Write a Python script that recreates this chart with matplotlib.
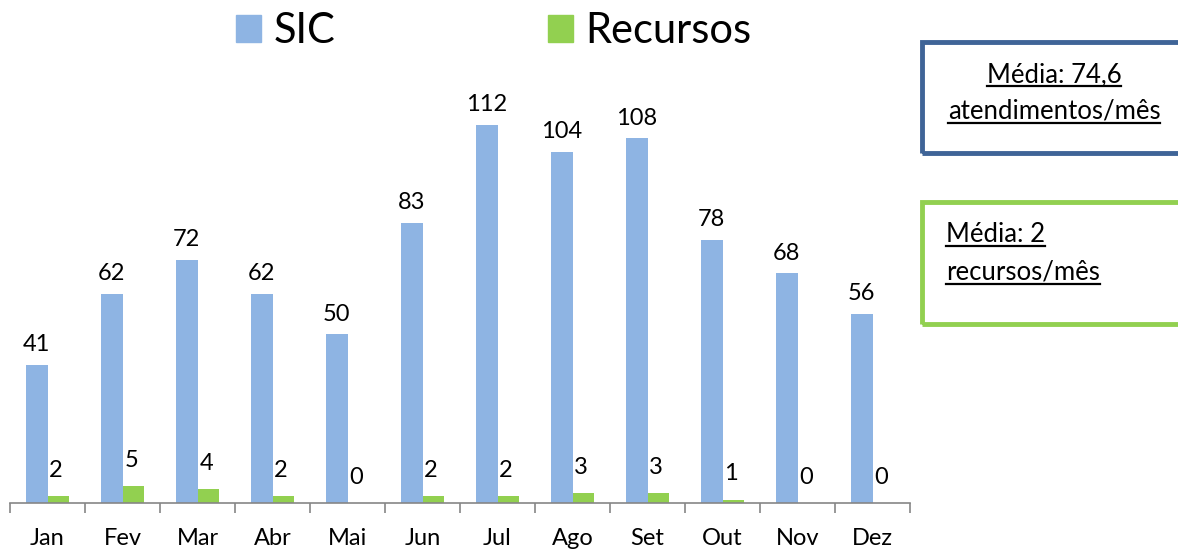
import matplotlib.pyplot as plt
import numpy as np
from matplotlib.patches import Patch, Rectangle
from matplotlib.lines import Line2D

plt.rcParams['font.family'] = ['Lato', 'DejaVu Sans']

# dados
meses = ['Jan', 'Fev', 'Mar', 'Abr', 'Mai', 'Jun', 'Jul', 'Ago', 'Set', 'Out', 'Nov', 'Dez']
sic = [41, 62, 72, 62, 50, 83, 112, 104, 108, 78, 68, 56]
recursos = [2, 5, 4, 2, 0, 2, 2, 3, 3, 1, 0, 0]
caixa_sic = ['Média: 74,6', 'atendimentos/mês']
caixa_rec = ['Média: 2', 'recursos/mês']

azul = '#8EB4E3'
verde = '#92D050'

W, H = 1178, 551
fig = plt.figure(figsize=(W / 100, H / 100), dpi=100)
ax = fig.add_axes([10 / W, 48 / H, 900 / W, 455 / H])

x = np.arange(len(meses))
w = 0.29
b1 = ax.bar(x - w / 2, sic, w, color=azul)
b2 = ax.bar(x + w / 2, recursos, w, color=verde)

for r, v in zip(b1, sic):
    ax.annotate(str(v), (r.get_x() + r.get_width() / 2, v), xytext=(0, 7),
                textcoords='offset points', ha='center', va='bottom', fontsize=17)
for r, v in zip(b2, recursos):
    ax.annotate(str(v), (r.get_x() + r.get_width() / 2 - 0.03, v), xytext=(0, 11),
                textcoords='offset points', ha='center', va='bottom', fontsize=17)

ax.set_xlim(-0.5, len(meses) - 0.5)
ax.set_ylim(0, 134.8)
for s in ['top', 'right', 'left']:
    ax.spines[s].set_visible(False)
ax.spines['bottom'].set_color('#868686')
ax.spines['bottom'].set_linewidth(1.2)
ax.set_yticks([])
ax.set_xticks(x)
ax.set_xticklabels(meses, fontsize=17)
ax.tick_params(axis='x', which='major', length=0, pad=18)
ax.set_xticks(np.arange(len(meses) + 1) - 0.5, minor=True)
ax.tick_params(axis='x', which='minor', length=7, color='#868686', width=1.2)

handles = [Patch(color=azul), Patch(color=verde)]
fig.legend(handles, ['SIC', 'Recursos'], loc='center', bbox_to_anchor=(494 / W, 1 - 31 / H),
           ncol=2, frameon=False, fontsize=30, handlelength=0.6, handleheight=0.6,
           handletextpad=0.3, columnspacing=5.1)

# caixas à direita
fig.patches.append(Rectangle((922 / W, 1 - 153 / H), 300 / W, 111 / H, transform=fig.transFigure,
                             fill=False, edgecolor='#3F6497', linewidth=3.5))
fig.patches.append(Rectangle((922 / W, 1 - 324 / H), 300 / W, 122 / H, transform=fig.transFigure,
                             fill=False, edgecolor=verde, linewidth=3.5))

textos = []
textos.append(fig.text(1054 / W, 1 - 75 / H, caixa_sic[0], ha='center', va='center', fontsize=18.5))
textos.append(fig.text(1054 / W, 1 - 111 / H, caixa_sic[1], ha='center', va='center', fontsize=18.5))
textos.append(fig.text(946 / W, 1 - 235 / H, caixa_rec[0], ha='left', va='center', fontsize=18.5))
textos.append(fig.text(946 / W, 1 - 272 / H, caixa_rec[1], ha='left', va='center', fontsize=18.5))

# sublinhado
fig.canvas.draw()
r = fig.canvas.get_renderer()
for t in textos:
    bb = t.get_window_extent(r)
    y = bb.y0 + 1
    fig.add_artist(Line2D([bb.x0 / W, bb.x1 / W], [y / H, y / H], transform=fig.transFigure,
                          color='black', linewidth=1.6))

fig.savefig('out.png', dpi=100)
